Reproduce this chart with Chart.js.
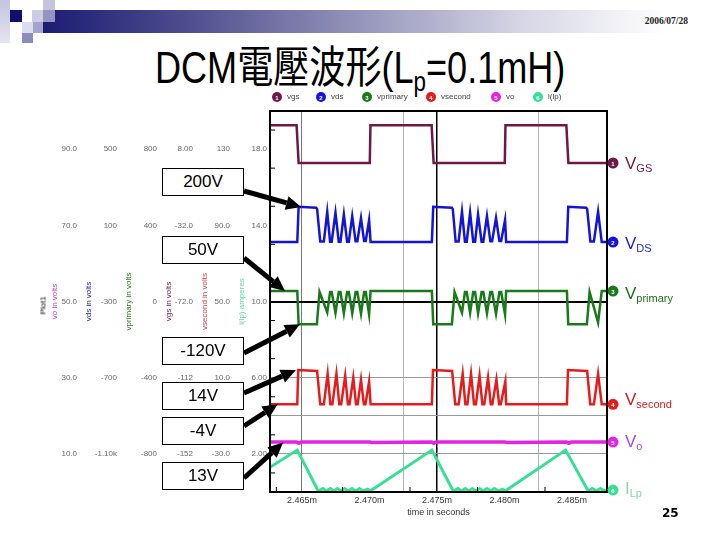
<!DOCTYPE html>
<html>
<head>
<meta charset="utf-8">
<script src="https://cdn.jsdelivr.net/npm/chart.js@4/dist/chart.umd.min.js"></script>
<style>
  body { margin: 0; background: #fff; }
  #page { position: relative; width: 720px; height: 540px; overflow: hidden; font-family: "Liberation Sans", Arial, sans-serif; }
  #plot { position: absolute; left: 0; top: 0; }
  .sq { position: absolute; }
  #bar { position: absolute; left: 43px; top: 10px; width: 677px; height: 23px;
         background: linear-gradient(to right, #1c1c74 0%, #4a4a8c 20%, #9090b8 45%, #d4d4e4 70%, #ffffff 92%); }
  #date { position: absolute; left: 600px; width: 88px; top: 15px; text-align: right;
          font: bold 10px "Liberation Serif", serif; color: #222; transform: scaleX(0.95); transform-origin: right; }
  #title { position: absolute; left: 0; width: 720px; top: 46px; text-align: center; line-height: 44px;
           font-size: 44px; font-family: "Liberation Sans", "Noto Sans CJK TC", sans-serif; color: #000;
           transform: scaleX(0.82); transform-origin: 361px 0; white-space: nowrap; }
  #title sub { font-size: 0.62em; vertical-align: -0.28em; line-height: 0; }
  .box { position: absolute; left: 162px; width: 82px; height: 28px; box-sizing: border-box;
         border: 1px solid #000; background: #fff; text-align: center; font-size: 17px; line-height: 26px; }
  .rl { position: absolute; left: 625px; font-size: 17px; line-height: 17px; white-space: nowrap; }
  .rl sub { font-size: 11px; vertical-align: -3px; line-height: 0; }
  #plot1 { position: absolute; left: 20px; top: 301px; width: 46px; text-align: center; font-size: 8px;
           transform: rotate(-90deg); transform-origin: center; color: #000; }
  #pg { position: absolute; left: 662px; top: 506px; font: bold 12px "DejaVu Sans", sans-serif; }
</style>
</head>
<body>
<div id="page">
  <div class="sq" style="left:0;top:0;width:10px;height:43px;background:linear-gradient(#c4c4e0,#e4e4f2)"></div>
  <div class="sq" style="left:10px;top:10px;width:12px;height:12px;background:#10106c"></div>
  <div class="sq" style="left:32px;top:10px;width:11px;height:12px;background:#ccccE4"></div>
  <div class="sq" style="left:43px;top:0;width:12px;height:10px;background:#c4c4de"></div>
  <div class="sq" style="left:22px;top:22px;width:11px;height:11px;background:#dcdcee"></div>
  <div class="sq" style="left:33px;top:22px;width:10px;height:11px;background:#a4a4cc"></div>
  <div class="sq" style="left:22px;top:33px;width:11px;height:10px;background:#8c8cbc"></div>
  <div id="bar"></div>
  <div class="sq" style="left:43px;top:10px;width:12px;height:12px;background:#9494c2"></div>
  <div id="date">2006/07/28</div>
  <div id="title">DCM電壓波形(L<sub>p</sub>=0.1mH)</div>
  <canvas id="plot" width="720" height="540"></canvas>
  <div id="plot1">Plot1</div>
  <div class="box" style="top:168px">200V</div>
  <div class="box" style="top:236px">50V</div>
  <div class="box" style="top:337px">-120V</div>
  <div class="box" style="top:382px">14V</div>
  <div class="box" style="top:417px">-4V</div>
  <div class="box" style="top:462px">13V</div>
  <div class="rl" style="top:155px;color:#6e1848">V<sub>GS</sub></div>
  <div class="rl" style="top:235px;color:#1c1cc8">V<sub>DS</sub></div>
  <div class="rl" style="top:285px;color:#1a701a">V<sub>primary</sub></div>
  <div class="rl" style="top:391px;color:#d01c1c">V<sub>second</sub></div>
  <div class="rl" style="top:433px;color:#b444dc">V<sub>o</sub></div>
  <div class="rl" style="top:480px;color:#88d8a4">I<sub>Lp</sub></div>
  <div id="pg">25</div>
</div>
<script>
// TIME AXIS (microseconds, shown as ms)
const tMin = 2462.63;
const tMax = 2487.59;
const xTickVals = [2465, 2470, 2475, 2480, 2485];
const xGridVals = [2465, 2472.5, 2475, 2482.5];
const xGridColors = ["#777", "#b4b4b4", "#000", "#b4b4b4"];
const xMinorVals = [2463.1, 2468.0, 2473.0, 2478.0, 2483.0];

// Y AXES TICKS
const voTicks = [10, 30, 50, 70, 90];
const voLabels = ["10.0", "30.0", "50.0", "70.0", "90.0"];
const vdsTicks = [-1100, -700, -300, 100, 500];
const vdsLabels = ["-1.10k", "-700", "-300", "100", "500"];
const vpriTicks = [-800, -400, 0, 400, 800];
const vpriLabels = ["-800", "-400", "0", "400", "800"];
const vgsTicks = [-152, -112, -72, -32, 8];
const vgsLabels = ["-152", "-112", "-72.0", "-32.0", "8.00"];
const vsecTicks = [-30, 10, 50, 90, 130];
const vsecLabels = ["-30.0", "10.0", "50.0", "90.0", "130"];
const ilpTicks = [2, 6, 10, 14, 18];
const ilpLabels = ["2.00", "6.00", "10.0", "14.0", "18.0"];
const yGridVals = [0, -400, -600, -800];
const yGridColors = ["#000", "#9a9a9a", "#9a9a9a", "#9a9a9a"];
const yMinorVals = [900, 700, 500, 300, 100, -100, -300, -500, -700, -900];

// SERIES
const vgsT = [2462.63, 2464.6, 2464.75, 2470.02, 2470.07, 2474.6, 2474.75, 2480.02, 2480.07, 2484.58, 2484.73, 2487.59];
const vgsV = [20.5, 20.5, 0.7, 0.7, 20.5, 20.5, 0.7, 0.7, 20.5, 20.5, 0.7, 0.7];

const vdsT = [2462.63, 2464.65, 2464.75, 2466.05, 2466.12, 2466.35, 2466.62,
  2466.87, 2467.08, 2467.2, 2467.48, 2467.72, 2467.85, 2468.1, 2468.34, 2468.47,
  2468.72, 2468.97, 2469.1, 2469.37, 2469.6, 2469.72, 2469.97, 2470.08,
  2474.62, 2474.72, 2476.1, 2476.17, 2476.38, 2476.6,
  2476.85, 2477.07, 2477.2, 2477.45, 2477.68, 2477.82, 2478.04, 2478.3, 2478.43,
  2478.7, 2478.95, 2479.08, 2479.37, 2479.62, 2479.75, 2480.04, 2480.12,
  2484.62, 2484.72, 2486.05, 2486.12, 2486.36, 2486.62, 2486.93, 2487.2, 2487.59];
const vdsV = [12, 12, 197, 192, 185, 15, 15,
  171, 14, 14, 166, 14, 14, 156, 14, 14,
  148, 16, 16, 138, 18, 18, 128, 12,
  12, 197, 192, 185, 15, 15,
  172, 14, 14, 166, 14, 14, 157, 14, 14,
  148, 16, 16, 138, 18, 18, 128, 12,
  12, 197, 192, 185, 15, 15, 171, 12, 12];

const vpriT = [2462.63, 2464.65, 2464.75, 2466.1, 2466.3,
  2466.87, 2467.08, 2467.2, 2467.48, 2467.72, 2467.85, 2468.1, 2468.34, 2468.47,
  2468.72, 2468.97, 2469.1, 2469.37, 2469.6, 2469.72, 2469.97, 2470.08,
  2474.62, 2474.72, 2476.1, 2476.3,
  2476.85, 2477.07, 2477.2, 2477.45, 2477.68, 2477.82, 2478.04, 2478.3, 2478.43,
  2478.7, 2478.95, 2479.08, 2479.37, 2479.62, 2479.75, 2480.04, 2480.12,
  2484.62, 2484.72, 2486.1, 2486.3, 2486.93, 2487.2, 2487.59];
const vpriV = [55, 55, -120, -120, 50,
  -58, 50, 50, -60, 50, 50, -62, 50, 50,
  -62, 50, 50, -65, 50, 50, -68, 55,
  55, -120, -120, 50,
  -58, 50, 50, -60, 50, 50, -62, 50, 50,
  -62, 50, 50, -65, 50, 50, -68, 55,
  55, -120, -120, 50, -110, 55, 55];

const vsecT = [2462.63, 2464.65, 2464.72, 2466.12, 2466.35, 2466.62,
  2466.9, 2467.1, 2467.25, 2467.55, 2467.76, 2467.9, 2468.2, 2468.4, 2468.52,
  2468.8, 2469.0, 2469.12, 2469.37, 2469.58, 2469.7, 2469.97, 2470.08,
  2474.62, 2474.7, 2476.12, 2476.35, 2476.6,
  2476.9, 2477.1, 2477.25, 2477.52, 2477.74, 2477.88, 2478.15, 2478.36, 2478.5,
  2478.78, 2478.98, 2479.1, 2479.4, 2479.6, 2479.72, 2480.06, 2480.12,
  2484.62, 2484.7, 2486.12, 2486.35, 2486.62, 2486.93, 2487.2, 2487.59];
const vsecV = [-4, -4, 14, 13.5, -4, -4,
  12, -4, -4, 12, -4, -4, 11, -4, -4,
  10, -4, -4, 9, -4, -4, 8, -4,
  -4, 14, 13.5, -4, -4,
  12, -4, -4, 12, -4, -4, 11, -4, -4,
  10, -4, -4, 9, -4, -4, 8, -4,
  -4, 14, 13.5, -4, -4, 12, -4, -4];

const voT = [2462.63, 2464.6, 2464.75, 2464.95, 2470.0, 2470.2, 2474.6, 2474.75, 2474.95, 2480.0, 2480.2, 2484.6, 2484.75, 2484.95, 2487.59];
const voV = [13.1, 13.1, 12.8, 13.1, 13.1, 13.0, 13.1, 12.8, 13.1, 13.1, 13.0, 13.1, 12.8, 13.1, 13.1];

const ilpT = [2462.63, 2464.65, 2466.2, 2466.55, 2466.8, 2467.1, 2467.35, 2467.62, 2467.88, 2468.15, 2468.42, 2468.7,
  2468.98, 2469.25, 2469.55, 2469.85, 2470.05,
  2474.62, 2476.2, 2476.55, 2476.8, 2477.1, 2477.35, 2477.62, 2477.88, 2478.15, 2478.42, 2478.7,
  2478.98, 2479.25, 2479.55, 2479.85, 2480.05,
  2484.52, 2486.2, 2486.5, 2486.8, 2487.1, 2487.4, 2487.59];
const ilpV = [1.3, 2.2, 0.05, 0.18, 0.05, 0.18, 0.05, 0.18, 0.05, 0.18, 0.05, 0.18,
  0.05, 0.18, 0.05, 0.15, 0.05,
  2.2, 0.05, 0.18, 0.05, 0.18, 0.05, 0.18, 0.05, 0.18, 0.05, 0.18,
  0.05, 0.18, 0.05, 0.15, 0.05,
  2.2, 0.05, 0.18, 0.05, 0.18, 0.05, 0.1];

const seriesNames = ["vgs", "vds", "vprimary", "vsecond", "vo", "i(lp)"];
const seriesColors = ["#6e1848", "#1414d8", "#1a7a1a", "#e41c1c", "#e424e4", "#38e094"];
const legendX = [277, 321, 367, 431, 496, 538];

// ANNOTATIONS
const annoStartY = [191, 258, 353, 393, 426, 478];
const annoTargets = [
  ["yVds", 2464.93, 196],
  ["yVpri", 2463.74, 55],
  ["yVpri", 2464.85, -120],
  ["yVsec", 2464.55, 14],
  ["yVsec", 2463.2, -4],
  ["yVo", 2463.6, 13],
];

// HELPERS
const pts = (ts, vs) => ts.map((t, i) => ({ x: t, y: vs[i] }));
const smallFont = { family: "Liberation Sans", size: 8 };

const yAxis = (min, max, vals, labs, title, color, weight, width) => ({
  type: "linear",
  position: "left",
  min: min,
  max: max,
  weight: weight,
  afterBuildTicks: (s) => { s.ticks = vals.map((v) => ({ value: v })); },
  afterFit: (s) => { s.width = width; },
  ticks: { callback: (v, i) => labs[i], font: smallFont, color: "#666", padding: 3, autoSkip: false },
  grid: { display: false, drawTicks: false },
  border: { display: false },
  title: { display: true, text: title, color: color, font: smallFont, padding: { top: 4, bottom: 0 } },
});

const drawArrow = (ctx, x0, y0, x1, y1) => {
  const ang = Math.atan2(y1 - y0, x1 - x0);
  const hl = 15, hw = 7;
  const bx = x1 - hl * Math.cos(ang);
  const by = y1 - hl * Math.sin(ang);
  ctx.strokeStyle = "#000";
  ctx.fillStyle = "#000";
  ctx.lineWidth = 5;
  ctx.beginPath();
  ctx.moveTo(x0, y0);
  ctx.lineTo(bx, by);
  ctx.stroke();
  ctx.beginPath();
  ctx.moveTo(x1, y1);
  ctx.lineTo(bx + hw * Math.sin(ang), by - hw * Math.cos(ang));
  ctx.lineTo(bx - hw * Math.sin(ang), by + hw * Math.cos(ang));
  ctx.closePath();
  ctx.fill();
};

const drawDot = (ctx, x, y, color, n, r) => {
  ctx.fillStyle = color;
  ctx.beginPath();
  ctx.arc(x, y, r, 0, Math.PI * 2);
  ctx.fill();
  ctx.fillStyle = "#fff";
  ctx.font = "bold 6px Liberation Sans";
  ctx.textAlign = "center";
  ctx.textBaseline = "middle";
  ctx.fillText(String(n), x, y + 1);
};

const extras = {
  id: "extras",
  afterDraw(chart) {
    const { ctx, chartArea: a, scales } = chart;
    ctx.save();
    // frame
    ctx.strokeStyle = "#000";
    ctx.lineWidth = 2;
    ctx.strokeRect(a.left, a.top, a.right - a.left, a.bottom - a.top);
    // minor ticks on the frame
    ctx.lineWidth = 1;
    yMinorVals.forEach((v) => {
      const y = scales.yg.getPixelForValue(v);
      ctx.beginPath(); ctx.moveTo(a.left, y); ctx.lineTo(a.left + 5, y); ctx.stroke();
    });
    xMinorVals.forEach((t) => {
      const x = scales.x.getPixelForValue(t);
      ctx.beginPath(); ctx.moveTo(x, a.bottom); ctx.lineTo(x, a.bottom - 5); ctx.stroke();
    });
    // trace end markers
    chart.data.datasets.forEach((ds, i) => {
      const last = ds.data[ds.data.length - 1];
      drawDot(ctx, a.right + 6, scales[ds.yAxisID].getPixelForValue(last.y), seriesColors[i], i + 1, 5.5);
    });
    // legend row
    seriesNames.forEach((name, i) => {
      drawDot(ctx, legendX[i], 97, seriesColors[i], i + 1, 5);
      ctx.fillStyle = "#444";
      ctx.font = "8px Liberation Sans";
      ctx.textAlign = "left";
      ctx.textBaseline = "middle";
      ctx.fillText(name, legendX[i] + 10, 97);
    });
    // arrows
    annoTargets.forEach(([axis, t, v], i) => {
      drawArrow(ctx, 244, annoStartY[i], scales.x.getPixelForValue(t), scales[axis].getPixelForValue(v));
    });
    ctx.restore();
  },
};

new Chart(document.getElementById("plot"), {
  type: "line",
  data: {
    datasets: [
      { label: "vgs", data: pts(vgsT, vgsV), yAxisID: "yVgs", borderColor: seriesColors[0], borderWidth: 2.5 },
      { label: "vds", data: pts(vdsT, vdsV), yAxisID: "yVds", borderColor: seriesColors[1], borderWidth: 2.5 },
      { label: "vprimary", data: pts(vpriT, vpriV), yAxisID: "yVpri", borderColor: seriesColors[2], borderWidth: 2.5 },
      { label: "vsecond", data: pts(vsecT, vsecV), yAxisID: "yVsec", borderColor: seriesColors[3], borderWidth: 2.5 },
      { label: "vo", data: pts(voT, voV), yAxisID: "yVo", borderColor: seriesColors[4], borderWidth: 3.5 },
      { label: "i(lp)", data: pts(ilpT, ilpV), yAxisID: "yIlp", borderColor: seriesColors[5], borderWidth: 3 },
    ].map((d) => Object.assign(d, { pointRadius: 0, fill: false, tension: 0 })),
  },
  options: {
    responsive: false,
    animation: false,
    layout: { autoPadding: false, padding: { left: 46, right: 113, top: 111, bottom: 18 } },
    plugins: { legend: { display: false }, tooltip: { enabled: false } },
    scales: {
      x: {
        type: "linear",
        position: "bottom",
        min: tMin,
        max: tMax,
        afterBuildTicks: (s) => { s.ticks = xTickVals.map((v) => ({ value: v })); },
        afterFit: (s) => { s.height = 30; },
        ticks: { callback: (v) => (v / 1000).toFixed(3) + "m", font: { family: "Liberation Sans", size: 9 }, color: "#333", padding: 3, maxRotation: 0, autoSkip: false },
        grid: { display: false, drawTicks: false },
        border: { display: false },
        title: { display: true, text: "time in seconds", font: { family: "Liberation Sans", size: 9 }, color: "#333", padding: { top: 0, bottom: 4 } },
      },
      xg: {
        type: "linear",
        position: "top",
        min: tMin,
        max: tMax,
        afterBuildTicks: (s) => { s.ticks = xGridVals.map((v) => ({ value: v })); },
        afterFit: (s) => { s.height = 0; },
        ticks: { display: false },
        grid: { color: (c) => xGridColors[c.index], lineWidth: (c) => (c.index === 2 ? 1.5 : 1), drawTicks: false },
        border: { display: false },
      },
      yg: {
        type: "linear",
        position: "right",
        min: -1000,
        max: 1000,
        afterBuildTicks: (s) => { s.ticks = yGridVals.map((v) => ({ value: v })); },
        afterFit: (s) => { s.width = 0; },
        ticks: { display: false },
        grid: { color: (c) => yGridColors[c.index], lineWidth: (c) => (c.index === 0 ? 2 : 1), drawTicks: false },
        border: { display: false },
      },
      yVo: yAxis(0, 100, voTicks, voLabels, "vo in volts", "#c040c0", 6, 34),
      yVds: yAxis(-1300, 700, vdsTicks, vdsLabels, "vds in volts", "#2020a0", 5, 40),
      yVpri: yAxis(-1000, 1000, vpriTicks, vpriLabels, "vprimary in volts", "#2a7a2a", 4, 40),
      yVgs: yAxis(-172, 28, vgsTicks, vgsLabels, "vgs in volts", "#6e1848", 3, 36),
      yVsec: yAxis(-50, 150, vsecTicks, vsecLabels, "vsecond in volts", "#d04040", 2, 37),
      yIlp: yAxis(0, 20, ilpTicks, ilpLabels, "i(lp) amperes", "#60d8a0", 1, 37),
    },
  },
  plugins: [extras],
});
</script>
</body>
</html>
